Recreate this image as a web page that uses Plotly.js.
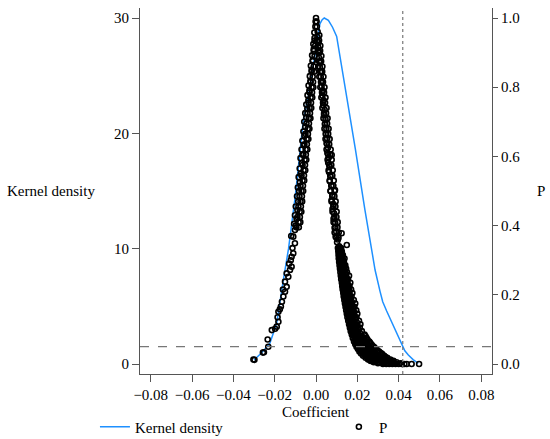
<!DOCTYPE html>
<html>
<head>
<meta charset="utf-8">
<script src="https://cdn.plot.ly/plotly-3.0.1.min.js"></script>
<style>html,body{margin:0;padding:0;background:#fff;}#chart{width:550px;height:439px;}</style>
</head>
<body>
<div id="chart"></div>
<script>
// Kernel density of placebo coefficients (left axis)
const kdCoef = [-0.0300,-0.0263,-0.0223,-0.0190,-0.0158,-0.0133,-0.0100,-0.0061,-0.0037,-0.0015,0.0005,0.0019,0.0030,0.0040,0.0060,0.0080,0.0100,0.0120,0.0140,0.0160,0.0190,0.0237,0.0260,0.0286,0.0310,0.0323,0.0342,0.0362,0.0382,0.0400,0.0415,0.0430,0.0447,0.0470,0.0495];
const kdDens = [0.35,0.98,1.8,3.55,7.3,10.0,14.6,21.2,23.2,25.6,28.0,29.5,29.85,30.0,29.8,29.2,28.4,26.3,24.3,22.0,18.7,13.35,10.9,8.15,6.3,5.4,4.6,3.8,2.95,2.2,1.65,1.15,0.78,0.38,0.06];

// P values of placebo coefficients (right axis): [coefficient, p]
const pLeftBranch = [
[-0.0303,0.013],[-0.0298,0.012],[-0.0257,0.033],[-0.0252,0.034],[-0.0231,0.050],[-0.0234,0.071],
[-0.0214,0.098],[-0.0198,0.102],[-0.0190,0.108],[-0.0182,0.122],[-0.0186,0.135],[-0.0182,0.151],
[-0.0175,0.158],[-0.0170,0.166],[-0.0165,0.180],[-0.0158,0.195],[-0.0150,0.209],[-0.0160,0.215],
[-0.0142,0.223],[-0.0150,0.238],[-0.0134,0.252],[-0.0142,0.262],[-0.0126,0.272],[-0.0118,0.281],
[-0.0130,0.290],[-0.0122,0.300],[-0.0118,0.310],[-0.0110,0.320],[-0.0114,0.335],[-0.0102,0.349],
[-0.0110,0.368],[-0.0120,0.370],[-0.0102,0.387],[-0.0098,0.400],[-0.0106,0.405],[-0.0094,0.420],
[-0.0102,0.430],[-0.0090,0.445],[-0.0098,0.455],[-0.0086,0.470],[-0.0092,0.485],[-0.0082,0.500],
[-0.0088,0.510],[-0.0078,0.525],[-0.0084,0.540],[-0.0074,0.550],[-0.0079,0.565],[-0.0069,0.580],
[-0.0075,0.595],[-0.0065,0.605],[-0.0070,0.620],[-0.0060,0.632],[-0.0066,0.645],[-0.0056,0.660],
[-0.0061,0.672],[-0.0052,0.685],[-0.0057,0.700],[-0.0047,0.712],[-0.0052,0.725],[-0.0042,0.738],
[-0.0047,0.750],[-0.0037,0.762],[-0.0041,0.777],[-0.0032,0.790],[-0.0036,0.805],[-0.0027,0.818],
[-0.0030,0.832],[-0.0021,0.850],[-0.0025,0.862],[-0.0016,0.878],[-0.0019,0.892],[-0.0011,0.910],
[-0.0013,0.925],[-0.0007,0.942],[-0.0008,0.958],[-0.0003,0.975],[-0.0002,0.990],[0.0000,1.000],
[-0.0084,0.41],[-0.0076,0.41],[-0.0079,0.44],[-0.0071,0.44],[-0.0075,0.47],[-0.0067,0.47],
[-0.0070,0.50],[-0.0062,0.50],[-0.0065,0.53],[-0.0057,0.53],[-0.0060,0.56],[-0.0052,0.56],
[-0.0055,0.59],[-0.0047,0.59],[-0.0050,0.62],[-0.0042,0.62],[-0.0045,0.65],[-0.0037,0.65],
[-0.0040,0.68],[-0.0032,0.68],[-0.0035,0.71],[-0.0027,0.71],[-0.0031,0.74],[-0.0023,0.74],
[-0.0026,0.77],[-0.0018,0.77],[-0.0021,0.80],[-0.0013,0.80],[-0.0016,0.83],[-0.0011,0.86],
[-0.0007,0.89],[-0.0004,0.92],
[-0.0083,0.395],[-0.0095,0.395],[-0.0078,0.425],[-0.0090,0.425],[-0.0073,0.455],[-0.0085,0.455],
[-0.0068,0.485],[-0.0080,0.485],[-0.0063,0.515],[-0.0075,0.515],[-0.0058,0.545],[-0.0070,0.545],
[-0.0053,0.575],[-0.0065,0.575],[-0.0049,0.605],[-0.0061,0.605],[-0.0044,0.635],[-0.0056,0.635],
[-0.0039,0.665],[-0.0051,0.665],[-0.0034,0.695],[-0.0046,0.695],[-0.0029,0.725],[-0.0041,0.725],
[-0.0024,0.755],[-0.0036,0.755],[-0.0019,0.785],[-0.0031,0.785],[-0.0014,0.815],[-0.0026,0.815],
[-0.0009,0.845],[-0.0021,0.845],[-0.0016,0.875],[-0.0011,0.905],[-0.0007,0.935]
];
const pRightUpper = [
[0.0003,0.990],[0.0004,0.975],[0.0008,0.960],[0.0007,0.945],[0.0012,0.930],[0.0011,0.915],
[0.0016,0.900],[0.0015,0.885],[0.0020,0.872],[0.0019,0.858],[0.0025,0.845],[0.0023,0.830],
[0.0029,0.818],[0.0027,0.803],[0.0033,0.790],[0.0031,0.775],[0.0037,0.762],[0.0035,0.748],
[0.0042,0.735],[0.0039,0.720],[0.0046,0.708],[0.0043,0.693],[0.0050,0.680],[0.0047,0.665],
[0.0054,0.652],[0.0051,0.638],[0.0058,0.625],[0.0055,0.610],[0.0076,0.604],[0.0062,0.597],
[0.0059,0.582],[0.0066,0.570],[0.0063,0.555],[0.0070,0.542],[0.0067,0.528],[0.0075,0.515],
[0.0071,0.500],[0.0092,0.503],[0.0079,0.488],[0.0076,0.474],[0.0084,0.462],[0.0080,0.448],
[0.0088,0.435],[0.0085,0.420],[0.0093,0.408],[0.0090,0.394],[0.0098,0.382],[0.0095,0.368],
[0.0124,0.378],[0.0106,0.360],[0.0102,0.352],[0.0149,0.344],[0.0112,0.340],
[0.0090,0.38],[0.0110,0.38],[0.0085,0.41],[0.0105,0.41],[0.0080,0.44],[0.0100,0.44],
[0.0075,0.47],[0.0095,0.47],[0.0070,0.50],[0.0090,0.50],[0.0066,0.53],[0.0086,0.53],
[0.0061,0.56],[0.0081,0.56],[0.0056,0.59],[0.0076,0.59],[0.0051,0.62],[0.0071,0.62],
[0.0046,0.65],[0.0066,0.65],[0.0041,0.68],[0.0061,0.68],[0.0036,0.71],[0.0056,0.71],
[0.0031,0.74],[0.0051,0.74],[0.0026,0.77],[0.0046,0.77],[0.0021,0.80],[0.0041,0.80],
[0.0016,0.83],[0.0036,0.83],[0.0011,0.86],[0.0031,0.86],[0.0026,0.89],[0.0021,0.92],
[0.0016,0.95],
[0.0099,0.365],[0.0109,0.365],[0.0094,0.395],[0.0104,0.395],[0.0089,0.425],[0.0099,0.425],
[0.0084,0.455],[0.0094,0.455],[0.0079,0.485],[0.0089,0.485],[0.0074,0.515],[0.0084,0.515],
[0.0069,0.545],[0.0079,0.545],[0.0064,0.575],[0.0074,0.575],[0.0059,0.605],[0.0069,0.605],
[0.0054,0.635],[0.0064,0.635],[0.0049,0.665],[0.0059,0.665],[0.0044,0.695],[0.0054,0.695],
[0.0039,0.725],[0.0049,0.725],[0.0034,0.755],[0.0044,0.755],[0.0029,0.785],[0.0039,0.785],
[0.0024,0.815],[0.0034,0.815],[0.0020,0.845],[0.0030,0.845],[0.0015,0.875],[0.0025,0.875],
[0.0010,0.905],[0.0020,0.905],[0.0005,0.935],[0.0015,0.935]
];
const pRightLower = [
[0.0106,0.335],[0.0113,0.335],[0.0121,0.335],[0.0108,0.325],[0.0116,0.325],[0.0125,0.325],
[0.0109,0.315],[0.0118,0.315],[0.0130,0.315],[0.0110,0.305],[0.0121,0.305],[0.0138,0.305],
[0.0112,0.295],[0.0124,0.295],[0.0135,0.295],[0.0114,0.285],[0.0127,0.285],[0.0142,0.285],
[0.0116,0.275],[0.0129,0.275],[0.0146,0.275],[0.0118,0.265],[0.0132,0.265],[0.0150,0.265],
[0.0120,0.255],[0.0135,0.255],[0.0160,0.255],[0.0122,0.245],[0.0138,0.245],[0.0155,0.245],
[0.0125,0.235],[0.0141,0.235],[0.0166,0.235],[0.0127,0.225],[0.0144,0.225],[0.0162,0.225],
[0.0129,0.215],[0.0147,0.215],[0.0170,0.215],[0.0132,0.205],[0.0150,0.205],[0.0176,0.205],
[0.0134,0.195],[0.0153,0.195],[0.0172,0.195],[0.0137,0.185],[0.0156,0.185],[0.0183,0.185],
[0.0140,0.175],[0.0160,0.175],[0.0190,0.175],[0.0143,0.165],[0.0163,0.165],[0.0186,0.165],
[0.0146,0.155],[0.0166,0.155],[0.0195,0.155],[0.0149,0.145],[0.0170,0.145],[0.0200,0.145],
[0.0152,0.135],[0.0174,0.135],[0.0196,0.135],[0.0156,0.125],[0.0178,0.125],[0.0208,0.125],
[0.0160,0.115],[0.0183,0.115],[0.0215,0.115],[0.0164,0.105],[0.0188,0.105],[0.0212,0.105],
[0.0168,0.095],[0.0193,0.095],[0.0222,0.095],[0.0173,0.085],[0.0199,0.085],[0.0235,0.085],
[0.0178,0.075],[0.0205,0.075],[0.0228,0.075],[0.0245,0.075],
[0.0184,0.065],[0.0212,0.065],[0.0236,0.065],[0.0258,0.065],
[0.0190,0.057],[0.0220,0.057],[0.0245,0.057],[0.0268,0.057],
[0.0196,0.050],[0.0228,0.050],[0.0255,0.050],[0.0280,0.050],
[0.0203,0.043],[0.0236,0.043],[0.0265,0.043],[0.0292,0.043],
[0.0210,0.036],[0.0246,0.036],[0.0276,0.036],[0.0305,0.036],
[0.0218,0.030],[0.0257,0.030],[0.0288,0.030],[0.0318,0.030],
[0.0228,0.024],[0.0270,0.024],[0.0300,0.024],[0.0330,0.024],
[0.0240,0.018],[0.0263,0.018],[0.0285,0.018],[0.0315,0.018],[0.0345,0.018],
[0.0252,0.013],[0.0276,0.013],[0.0300,0.013],[0.0330,0.013],[0.0360,0.013],
[0.0265,0.009],[0.0290,0.009],[0.0315,0.009],[0.0345,0.009],[0.0375,0.009],
[0.0280,0.005],[0.0305,0.005],[0.0330,0.005],[0.0360,0.005],[0.0390,0.005],
[0.0300,0.002],[0.0325,0.002],[0.0350,0.002],[0.0380,0.002],[0.0410,0.002],
[0.0324,0.000],[0.0340,0.000],[0.0355,0.000],[0.0370,0.000],[0.0385,0.000],[0.0400,0.000],
[0.0415,0.000],[0.0428,0.000],[0.0439,0.000],[0.0463,0.000],[0.0499,0.000],
[0.0110,0.330],[0.0119,0.330],[0.0112,0.320],[0.0124,0.320],[0.0114,0.310],[0.0128,0.310],
[0.0117,0.300],[0.0131,0.300],[0.0119,0.290],[0.0134,0.290],[0.0121,0.280],[0.0137,0.280],
[0.0124,0.270],[0.0140,0.270],[0.0126,0.260],[0.0146,0.260],[0.0129,0.250],[0.0148,0.250],
[0.0131,0.240],[0.0152,0.240],[0.0134,0.230],[0.0154,0.230],[0.0136,0.220],[0.0158,0.220],
[0.0139,0.210],[0.0162,0.210],[0.0142,0.200],[0.0163,0.200],[0.0145,0.190],[0.0168,0.190],
[0.0148,0.180],[0.0173,0.180],[0.0151,0.170],[0.0175,0.170],[0.0155,0.160],[0.0180,0.160],
[0.0158,0.150],[0.0184,0.150],[0.0162,0.140],[0.0186,0.140],[0.0165,0.130],[0.0192,0.130],
[0.0169,0.120],[0.0198,0.120],[0.0174,0.110],[0.0200,0.110],[0.0178,0.100],[0.0205,0.100],
[0.0183,0.090],[0.0212,0.090],[0.0188,0.080],[0.0218,0.080],[0.0240,0.080],
[0.0194,0.070],[0.0222,0.070],[0.0250,0.070],[0.0200,0.061],[0.0230,0.061],[0.0262,0.061],
[0.0207,0.053],[0.0238,0.053],[0.0272,0.053],[0.0214,0.046],[0.0247,0.046],[0.0285,0.046],
[0.0222,0.039],[0.0256,0.039],[0.0298,0.039],[0.0232,0.033],[0.0268,0.033],[0.0310,0.033],
[0.0242,0.027],[0.0280,0.027],[0.0322,0.027],[0.0252,0.021],[0.0292,0.021],[0.0335,0.021],
[0.0262,0.015],[0.0300,0.015],[0.0340,0.015],[0.0272,0.011],[0.0320,0.011],[0.0352,0.011],
[0.0290,0.007],[0.0335,0.007],[0.0368,0.007],[0.0310,0.0035],[0.0345,0.0035],[0.0375,0.0035],
[0.0111,0.3325],[0.0121,0.3325],[0.0113,0.3225],[0.0124,0.3225],[0.0114,0.3125],[0.0127,0.3125],
[0.0116,0.3025],[0.0129,0.3025],[0.0118,0.2925],[0.0132,0.2925],[0.0120,0.2825],[0.0135,0.2825],
[0.0122,0.2725],[0.0137,0.2725],[0.0124,0.2625],[0.0140,0.2625],[0.0126,0.2525],[0.0143,0.2525],
[0.0128,0.2425],[0.0146,0.2425],[0.0130,0.2325],[0.0149,0.2325],[0.0132,0.2225],[0.0152,0.2225],
[0.0134,0.2125],[0.0155,0.2125],[0.0137,0.2025],[0.0158,0.2025],[0.0140,0.1925],[0.0161,0.1925],
[0.0143,0.1825],[0.0164,0.1825],[0.0146,0.1725],[0.0168,0.1725],[0.0149,0.1625],[0.0171,0.1625],
[0.0152,0.1525],[0.0175,0.1525],[0.0155,0.1425],[0.0178,0.1425],[0.0158,0.1325],[0.0182,0.1325],
[0.0162,0.1225],[0.0186,0.1225],[0.0166,0.1125],[0.0191,0.1125],[0.0170,0.1025],[0.0196,0.1025],
[0.0175,0.0925],[0.0202,0.0925],[0.0180,0.0825],[0.0208,0.0825],[0.0186,0.0725],[0.0215,0.0725],
[0.0192,0.0625],[0.0224,0.0625],[0.0200,0.0535],[0.0233,0.0535],[0.0208,0.0465],[0.0242,0.0465],
[0.0216,0.0395],[0.0252,0.0395],[0.0225,0.0330],[0.0262,0.0330],[0.0235,0.0270],[0.0274,0.0270],
[0.0246,0.0210],[0.0287,0.0210],[0.0257,0.0155],[0.0295,0.0155],[0.0262,0.0110],[0.0310,0.0110],
[0.0278,0.0070],[0.0325,0.0070]
];

const trueCoef = 0.042;     // vertical reference line
const pThreshold = 0.05;    // horizontal reference line
const xTickVals = [-0.08,-0.06,-0.04,-0.02,0,0.02,0.04,0.06,0.08];
const yTickVals = [0,10,20,30];
const y2TickVals = [0,0.2,0.4,0.6,0.8,1.0];

const pAll = pLeftBranch.concat(pRightUpper, pRightLower);
const pCoef = pAll.map(d => d[0]);
const pVal = pAll.map(d => d[1]);

const FONT = '"Liberation Serif", "Times New Roman", serif';
const AX = '#555555';

const traces = [
  {x: kdCoef, y: kdDens, type: 'scatter', mode: 'lines', name: 'Kernel density',
   line: {color: '#1e90ff', width: 1.5}, yaxis: 'y', legend: 'legend', hoverinfo: 'skip'},
  {x: pCoef, y: pVal, type: 'scatter', mode: 'markers', name: 'P',
   marker: {symbol: 'circle-open', size: 5, color: '#000000', line: {width: 1.6, color: '#000000'}},
   yaxis: 'y2', legend: 'legend2', hoverinfo: 'skip'}
];

const layout = {
  width: 550, height: 439,
  margin: {l: 140, r: 58, t: 8, b: 65, autoexpand: false},
  paper_bgcolor: '#ffffff', plot_bgcolor: '#ffffff',
  font: {family: FONT, size: 15, color: '#000000'},
  showlegend: true,
  xaxis: {range: [-0.0852, 0.0852], tickvals: xTickVals, tickformat: '.2f',
    showgrid: false, zeroline: false, showline: true, linecolor: AX, linewidth: 1,
    ticks: 'outside', ticklen: 7, tickcolor: AX, tickfont: {family: FONT, size: 15, color: '#000'}},
  yaxis: {range: [-0.867, 30.867], tickvals: yTickVals, showgrid: false, zeroline: false,
    showline: true, linecolor: AX, linewidth: 1, ticks: 'outside', ticklen: 7, tickcolor: AX,
    tickfont: {family: FONT, size: 15, color: '#000'}},
  yaxis2: {range: [-0.0289, 1.0289], tickvals: y2TickVals, tickformat: '.1f',
    overlaying: 'y', side: 'right', showgrid: false, zeroline: false, showline: true,
    linecolor: AX, linewidth: 1, ticks: 'outside', ticklen: 5, tickcolor: AX,
    tickfont: {family: FONT, size: 15, color: '#000'}},
  legend: {x: -0.128, y: -0.145, xanchor: 'left', yanchor: 'middle', orientation: 'h',
    bgcolor: 'rgba(0,0,0,0)', borderwidth: 0, font: {family: FONT, size: 15, color: '#000'}},
  legend2: {x: 0.565, y: -0.145, xanchor: 'left', yanchor: 'middle', orientation: 'h',
    bgcolor: 'rgba(0,0,0,0)', borderwidth: 0, font: {family: FONT, size: 15, color: '#000'}},
  shapes: [
    {type: 'line', xref: 'x', yref: 'paper', x0: trueCoef, x1: trueCoef, y0: 0, y1: 1,
     line: {color: '#777777', width: 1.2, dash: 'dot'}},
    {type: 'line', xref: 'paper', yref: 'y2', x0: 0, x1: 1, y0: pThreshold, y1: pThreshold,
     line: {color: '#777777', width: 1.2, dash: 'dash'}}
  ],
  annotations: [
    {text: 'Kernel density', xref: 'paper', yref: 'paper', x: -0.3835, y: 0.5,
     xanchor: 'left', yanchor: 'middle', showarrow: false, font: {family: FONT, size: 15, color: '#000'}},
    {text: 'P', xref: 'paper', yref: 'paper', x: 1.138, y: 0.5,
     xanchor: 'center', yanchor: 'middle', showarrow: false, font: {family: FONT, size: 15, color: '#000'}},
    {text: 'Coefficient', xref: 'paper', yref: 'paper', x: 0.5, y: -0.104,
     xanchor: 'center', yanchor: 'middle', showarrow: false, font: {family: FONT, size: 15, color: '#000'}}
  ]
};

Plotly.newPlot('chart', traces, layout, {displayModeBar: false, staticPlot: true});
</script>
</body>
</html>
